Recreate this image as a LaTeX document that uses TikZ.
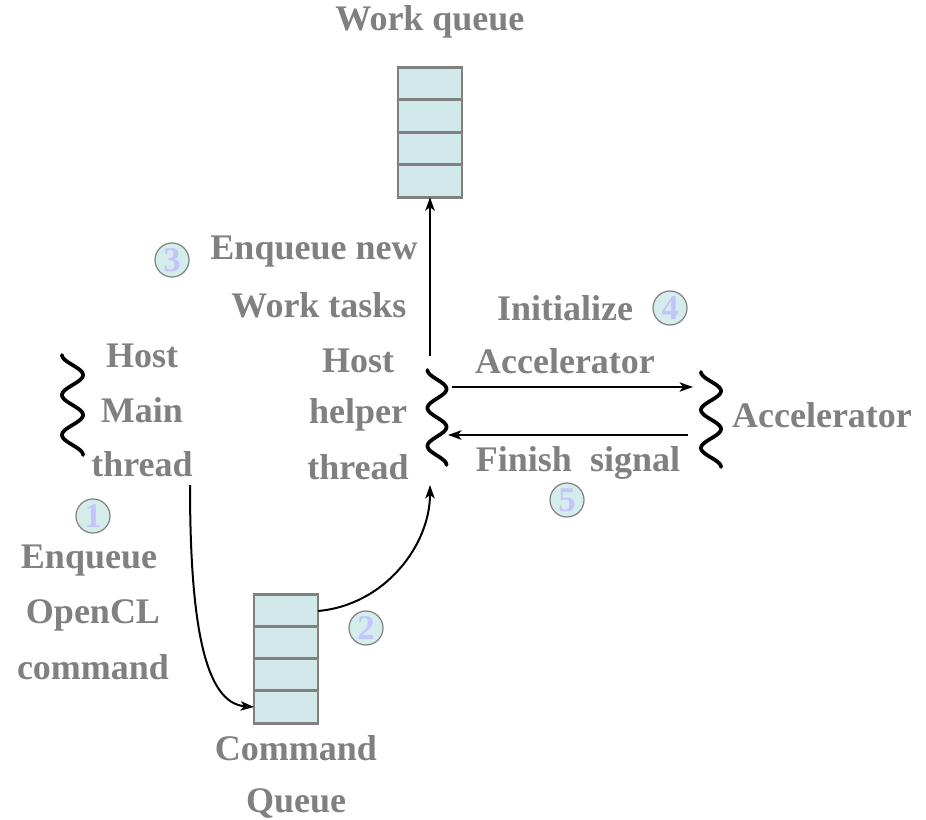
\documentclass[tikz,border=0pt]{standalone}
\usepackage{fontspec}
\setmainfont{Liberation Serif}
\usetikzlibrary{arrows.meta}
\definecolor{labelgray}{HTML}{808080}
\definecolor{cellfill}{HTML}{D1E9EA}
\definecolor{numfill}{HTML}{D4ECEC}
\definecolor{numtext}{HTML}{C4C4FA}
\begin{document}
\begin{tikzpicture}[x=0.75pt,y=-0.75pt,
  lbl/.style={text=labelgray,font=\fontsize{27}{32}\selectfont\bfseries,inner sep=0pt},
  cell/.style={draw=labelgray,fill=cellfill,line width=2pt,minimum width=48pt,minimum height=24.4pt,inner sep=0pt,outer sep=0pt},
  stepnum/.style={circle,draw=labelgray,fill=numfill,line width=0.9pt,minimum size=25.5pt,inner sep=0pt,
    text=numtext,font=\fontsize{26}{26}\selectfont\bfseries},
  wave/.style={line width=2.8pt,line cap=round,black},
  link/.style={line width=1.5pt,black,-{Stealth[length=10pt,width=7pt,inset=2.5pt]}}]
\useasboundingbox (0,0) rectangle (926,820);

% work queue
\foreach \i in {0,...,3}
  \node[cell] (wq\i) at (430,{83.5+32.5*\i}) {};
\node[lbl] (wqlabel) at (430,22) {Work queue};

% command queue
\foreach \i in {0,...,3}
  \node[cell] (cq\i) at (286,{611+32*\i}) {};
\node[lbl] (cqa) at (296,748) {Command};
\node[lbl] (cqb) at (296,803) {Queue};

% thread waves: two and a half periods each
\draw[wave] plot[variable=\t,domain=0:100,samples=100,smooth] ({72.5-10.5*cos(9*\t)},{355+\t});
\draw[wave] plot[variable=\t,domain=0:95,samples=100,smooth] ({437-9.5*cos(9.4737*\t)},{370+\t});
\draw[wave] plot[variable=\t,domain=0:95,samples=100,smooth] ({711-10*cos(9.4737*\t)},{372+\t});

\coordinate (helpertop) at (430,356);
\coordinate (helperbot) at (430,485);
\coordinate (helperout) at (452,387);
\coordinate (helperin) at (448,435);
\coordinate (accin) at (693,387);
\coordinate (accout) at (688,435);
\coordinate (mainout) at (190,485);

% labels
\node[lbl] (hm1) at (142,356) {Host};
\node[lbl] (hm2) at (142,410) {Main};
\node[lbl] (hm3) at (142,464) {thread};
\node[lbl] (hh1) at (358,361) {Host};
\node[lbl] (hh2) at (358,415) {helper};
\node[lbl] (hh3) at (358,467) {thread};
\node[lbl] (acc) at (822,415) {Accelerator};
\node[lbl] (eq1) at (314,252) {Enqueue new};
\node[lbl] (eq2) at (319,305) {Work tasks};
\node[lbl] (in1) at (565,308) {Initialize};
\node[lbl] (in2) at (565,361) {Accelerator};
\node[lbl] (fin) at (578,463) {Finish\ \ signal};
\node[lbl] (oc1) at (89,561) {Enqueue};
\node[lbl] (oc2) at (93,615) {OpenCL};
\node[lbl] (oc3) at (93,667) {command};

% step markers
\node[stepnum] (s1) at (93,516) {1};
\node[stepnum] (s2) at (366,628) {2};
\node[stepnum] (s3) at (172,260) {3};
\node[stepnum] (s4) at (670,308) {4};
\node[stepnum] (s5) at (567,500) {5};

% connectors
\draw[link] (helpertop) -- (wq3.south);
\draw[link] (helperout) -- (accin);
\draw[link] (accout) -- (helperin);
\draw[link] (mainout) .. controls (190,625) and (205,703) .. (cq3.west);
\draw[link] (cq0.east) .. controls (385,605) and (430,545) .. (helperbot);
\end{tikzpicture}
\end{document}
